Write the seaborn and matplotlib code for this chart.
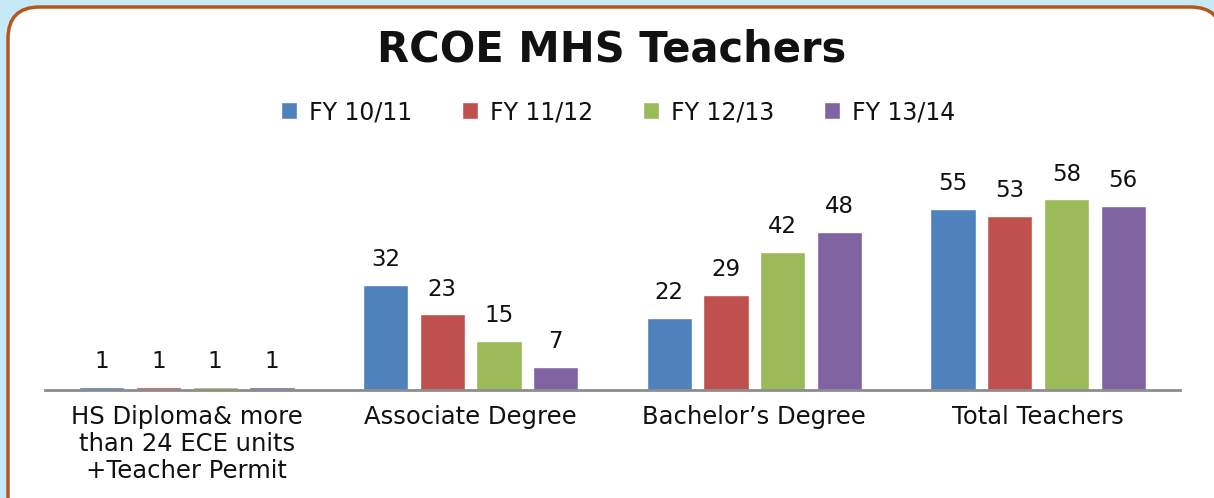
import matplotlib
matplotlib.use("Agg")
import matplotlib.pyplot as plt
from matplotlib.patches import FancyBboxPatch
import seaborn as sns
import pandas as pd

categories = ["HS Diploma& more\nthan 24 ECE units\n+Teacher Permit",
              "Associate Degree", "Bachelor\u2019s Degree", "Total Teachers"]
years = ["FY 10/11", "FY 11/12", "FY 12/13", "FY 13/14"]
fy1011 = [1, 32, 22, 55]
fy1112 = [1, 23, 29, 53]
fy1213 = [1, 15, 42, 58]
fy1314 = [1, 7, 48, 56]
colors = ["#4F81BD", "#C0504D", "#9BBB59", "#8064A2"]

rows = []
for yr, vals in zip(years, [fy1011, fy1112, fy1213, fy1314]):
    for c, v in zip(categories, vals):
        rows.append({"category": c, "year": yr, "value": v})
df = pd.DataFrame(rows)

sns.set_theme(style="white")
plt.rcParams['font.family'] = ['DejaVu Sans']

W, H = 1214, 498
fig = plt.figure(figsize=(W / 100, H / 100), dpi=100)
fig.patch.set_facecolor("#C6E9F8")

# rounded white panel
box = FancyBboxPatch((8 / W, -40 / H), (1222 - 8) / W, (H - 7 + 40) / H,
                     boxstyle="round,pad=0,rounding_size=0.026",
                     transform=fig.transFigure, facecolor="white",
                     edgecolor="#B5561B", linewidth=2.5, zorder=-10,
                     mutation_aspect=W / H)
fig.patches.append(box)

ax = fig.add_axes([45 / W, (H - 390) / H, (1180 - 45) / W, 230 / H])
ax.set_facecolor("none")
ax.set_zorder(5)
sns.barplot(data=df, x="category", y="value", hue="year", palette=colors,
            width=0.8, gap=0.2, ax=ax, saturation=1, legend=True)
ax.set_ylim(0, 70)
ax.set_xlim(-0.5, 3.5)
for cont in ax.containers:
    ax.bar_label(cont, padding=10, fontsize=16.5, color="#111111")

for s in ["top", "right", "left"]:
    ax.spines[s].set_visible(False)
ax.spines["bottom"].set_color("#8C8C8C")
ax.spines["bottom"].set_linewidth(2)
ax.set_yticks([])
ax.set_xlabel("")
ax.set_ylabel("")
ax.tick_params(axis="x", length=0, pad=11, labelsize=17.5, labelcolor="#111111")
for lab in ax.get_xticklabels():
    lab.set_linespacing(1.15)

leg = ax.legend(loc="center", bbox_to_anchor=(618 / W, (H - 112) / H),
                bbox_transform=fig.transFigure, ncol=4, frameon=False,
                fontsize=17, handlelength=0.7, handleheight=0.7,
                handletextpad=0.5, columnspacing=2.1)
for t in leg.get_texts():
    t.set_color("#111111")

fig.text(612 / W, (H - 50) / H, "RCOE MHS Teachers", ha="center", va="center",
         fontsize=30, fontweight="bold", color="#111111")

fig.savefig("out.png", dpi=100, facecolor=fig.get_facecolor())
